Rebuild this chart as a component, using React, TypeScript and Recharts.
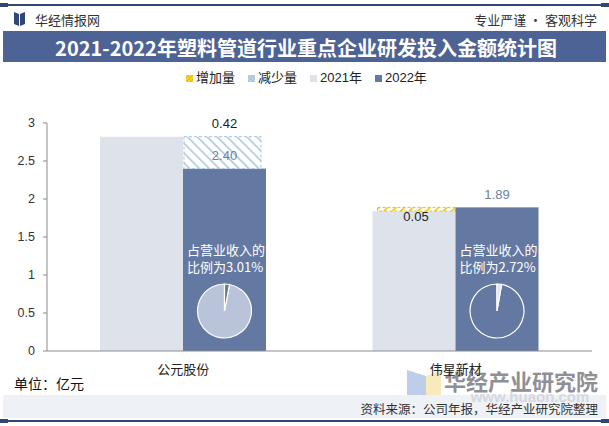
import React from 'react';
import { ComposedChart, Bar, XAxis, YAxis, LabelList, Sector } from 'recharts';

const FONT = '"Liberation Sans", "Noto Sans CJK SC", sans-serif';
const CJK = '"Noto Sans CJK SC", "Liberation Sans", sans-serif';

// ---- data ----
const categories = ['公元股份', '伟星新材'];
const values2021 = [2.82, 1.84];
const values2022 = [2.4, 1.89];
const increases = [0, 0.05];
const decreases = [0.42, 0];
const revenueSharePct = [3.01, 2.72];
const yTicks = [0, 0.5, 1, 1.5, 2, 2.5, 3];
const legendLabels = ['增加量', '减少量', '2021年', '2022年'];

const data = categories.map((name, i) => ({
  name,
  v2021: values2021[i],
  inc: increases[i],
  v2022: values2022[i],
  dec: decreases[i],
  share: revenueSharePct[i],
}));

// ---- styles ----
const C2021 = '#dde2eb';
const C2022 = '#6479a1';
const CLABEL22 = '#6b7fa6';
const CDEC = '#a9c5d6';
const CINC = '#f0c000';
const NAVY = '#2f4777';
const BAND = '#4d6295';
const PIE_COLORS = [
  { big: '#b9c3d9', small: C2022 },
  { big: C2022, small: '#dfe4ee' },
];

const hatchShape = (pid: string, stroke: string, inL: number, inR: number) => (p: any) => {
  const { x, y, width, height } = p;
  if (!height || height <= 0.5) return null;
  return (
    <rect
      x={x + inL}
      y={y}
      width={width - inL - inR}
      height={height}
      fill={`url(#${pid})`}
      stroke={stroke}
      strokeWidth={1}
      strokeDasharray="3 2"
    />
  );
};

const Bar2022Shape = (p: any) => {
  const { x, y, width, height, payload, index } = p;
  const bottom = y + height;
  const cx = x + width / 2;
  const cy = bottom - 40;
  const r = 27;
  const share = payload.share;
  const endSmall = 90 - share * 3.6;
  const pc = PIE_COLORS[index % PIE_COLORS.length];
  return (
    <g>
      <rect x={x} y={y} width={width} height={height} fill={C2022} />
      <text x={x + 4} y={bottom - 102} fill="#fff" fontSize={13} fontFamily={CJK} dominantBaseline="central">
        占营业收入的
      </text>
      <text x={x + 4} y={bottom - 85} fill="#fff" fontSize={13} fontFamily={CJK} dominantBaseline="central">
        {`比例为${share.toFixed(2)}%`}
      </text>
      <Sector cx={cx} cy={cy} innerRadius={0} outerRadius={r} startAngle={endSmall} endAngle={-270} fill={pc.big} stroke="#fff" strokeWidth={1.2} />
      <Sector cx={cx} cy={cy} innerRadius={0} outerRadius={r} startAngle={90} endAngle={endSmall} fill={pc.small} stroke="#fff" strokeWidth={1.2} />
    </g>
  );
};

const getBox = (props: any) => {
  const vb = props.viewBox || {};
  return {
    x: props.x ?? vb.x,
    y: props.y ?? vb.y,
    width: props.width ?? vb.width,
    height: props.height ?? vb.height,
  };
};

const DecTopLabel = (props: any) => {
  const { value } = props;
  if (!value) return null;
  const { x, y, width } = getBox(props);
  return (
    <text x={x + width / 2} y={y - 13} textAnchor="middle" dominantBaseline="central" fontSize={13} fill="#222" fontFamily={FONT}>
      {Number(value).toFixed(2)}
    </text>
  );
};

const Value2022Label = (props: any) => {
  const { value } = props;
  const { x, y, width, height } = getBox(props);
  return (
    <text x={x + width / 2} y={y + (height || 0) - 13} textAnchor="middle" dominantBaseline="central" fontSize={13} fill={CLABEL22} fontFamily={FONT}>
      {Number(value).toFixed(2)}
    </text>
  );
};

const IncLabel = (props: any) => {
  const { value } = props;
  if (!value) return null;
  const { x, y, width, height } = getBox(props);
  return (
    <text x={x + width / 2 + 2} y={y + (height || 0) + 5} textAnchor="middle" dominantBaseline="central" fontSize={13} fill="#222" fontFamily={FONT}>
      {Number(value).toFixed(2)}
    </text>
  );
};

const legendSwatches = [
  <rect width={7} height={7} fill="url(#legInc)" />,
  <rect width={7} height={7} fill="url(#legDec)" />,
  <rect width={7} height={7} fill={C2021} />,
  <rect width={7} height={7} fill={C2022} />,
];

export default function App() {
  return (
    <div style={{ position: 'absolute', left: 0, top: 0, width: 609, height: 426, background: '#fff', fontFamily: FONT, overflow: 'hidden' }}>
      {/* background decorations */}
      <svg width={609} height={426} style={{ position: 'absolute', left: 0, top: 0 }}>
        <defs>
          <pattern id="legInc" width="3" height="3" patternUnits="userSpaceOnUse" patternTransform="rotate(45)">
            <rect width="3" height="3" fill={CINC} />
            <line x1="0" y1="0" x2="0" y2="3" stroke="#fff6c8" strokeWidth="1" />
          </pattern>
          <pattern id="legDec" width="3" height="3" patternUnits="userSpaceOnUse" patternTransform="rotate(-45)">
            <rect width="3" height="3" fill={CDEC} />
            <line x1="0" y1="0" x2="0" y2="3" stroke="#e6f0f6" strokeWidth="1" />
          </pattern>
        </defs>
        {/* top line */}
        <rect x={0} y={4} width={609} height={2} fill={NAVY} />
        <rect x={0} y={3} width={8} height={4} fill={NAVY} />
        <rect x={601} y={3} width={8} height={4} fill={NAVY} />
        {/* logo */}
        <path d="M14,12 L19,14 L19,26 L14,24 Z" fill={NAVY} />
        <path d="M20,14 L25,12 L25,24 L20,26 Z" fill={NAVY} />
        <text x={35} y={19} fontSize={13} fill="#333" fontFamily={CJK} dominantBaseline="central">华经情报网</text>
        <text x={597} y={19} fontSize={13} fill="#333" fontFamily={CJK} dominantBaseline="central" textAnchor="end">专业严谨 • 客观科学</text>
        {/* title band */}
        <rect x={3} y={31} width={603} height={31} fill={BAND} />
        <text x={306} y={47} fontSize={20} fontWeight={700} fill="#fff" fontFamily={CJK} dominantBaseline="central" textAnchor="middle">
          2021-2022年塑料管道行业重点企业研发投入金额统计图
        </text>
        {/* watermark bottom-right */}
        <g opacity={0.75}>
          <path d="M407,370 L426,376 L426,404 L407,398 Z" fill="#a9bde3" />
          <path d="M426,376 L441,370 L441,398 L426,404 Z" fill="#f6e3a8" />
        </g>
        <text x={598} y={380} fontSize={22} fontWeight={700} fill="#8e9096" fontFamily={CJK} dominantBaseline="central" textAnchor="end">华经产业研究院</text>
        {/* footer band */}
        <rect x={3} y={395} width={603} height={23} fill="#eef1f6" />
        <text x={530} y={396} fontSize={15} fontWeight={700} fill="#c9cdd6" fontFamily={FONT} dominantBaseline="central" textAnchor="middle" opacity={0.7}>www.huaon.com</text>
        <text x={14} y={383} fontSize={14} fill="#111" fontFamily={CJK} dominantBaseline="central">单位：亿元</text>
        <text x={598} y={408} fontSize={12.5} fill="#333" fontFamily={CJK} dominantBaseline="central" textAnchor="end">资料来源：公司年报，华经产业研究院整理</text>
        {/* bottom line */}
        <rect x={0} y={420} width={609} height={2} fill={NAVY} />
        <rect x={0} y={419} width={8} height={4} fill={NAVY} />
        <rect x={601} y={419} width={8} height={4} fill={NAVY} />
      </svg>

      {/* chart */}
      <div style={{ position: 'absolute', left: 0, top: 0 }}>
        <ComposedChart
          width={609}
          height={426}
          data={data}
          margin={{ top: 123, right: 17, bottom: 45, left: 7 }}
          barGap={0}
          barCategoryGap={0}
        >
          <defs>
            <pattern id="hatchDec" width="7" height="7" patternUnits="userSpaceOnUse" patternTransform="rotate(-45)">
              <rect width="7" height="7" fill="#fff" />
              <line x1="0" y1="0" x2="0" y2="7" stroke={CDEC} strokeWidth="3" />
            </pattern>
            <pattern id="hatchInc" width="6" height="6" patternUnits="userSpaceOnUse" patternTransform="rotate(45)">
              <rect width="6" height="6" fill="#fff" />
              <line x1="0" y1="0" x2="0" y2="6" stroke={CINC} strokeWidth="3" />
            </pattern>
          </defs>
          <XAxis
            dataKey="name"
            height={30}
            axisLine={{ stroke: '#8c8c8c' }}
            tickLine={false}
            tick={{ fontSize: 13, fill: '#222', fontFamily: CJK }}
            tickMargin={8}
          />
          <YAxis
            domain={[0, 3]}
            ticks={yTicks}
            width={40}
            axisLine={{ stroke: '#8c8c8c' }}
            tickLine={{ stroke: '#8c8c8c' }}
            tickSize={4}
            tickMargin={8}
            tick={{ fontSize: 12.5, fill: '#333', fontFamily: FONT }}
            interval={0}
          />
          <Bar dataKey="v2021" stackId="a" fill={C2021} barSize={83} isAnimationActive={false} />
          <Bar dataKey="inc" stackId="a" barSize={83} isAnimationActive={false} shape={hatchShape('hatchInc', CINC, 5, 0)}>
            <LabelList dataKey="inc" content={IncLabel} />
          </Bar>
          <Bar dataKey="v2022" stackId="b" fill={C2022} barSize={83} isAnimationActive={false} shape={Bar2022Shape} />
          <Bar dataKey="dec" stackId="b" barSize={83} isAnimationActive={false} shape={hatchShape('hatchDec', CDEC, 1, 5)}>
            <LabelList dataKey="v2022" content={Value2022Label} />
            <LabelList dataKey="dec" content={DecTopLabel} />
          </Bar>
        </ComposedChart>
      </div>

      {/* legend */}
      <div style={{ position: 'absolute', left: 186, top: 70, display: 'flex', alignItems: 'center', gap: 13, fontSize: 13, color: '#222', fontFamily: FONT, lineHeight: '16px' }}>
        {legendLabels.map((l, i) => (
          <span key={l} style={{ display: 'flex', alignItems: 'center', gap: 3 }}>
            <svg width={7} height={7} style={{ display: 'block' }}>{legendSwatches[i]}</svg>
            <span>{l}</span>
          </span>
        ))}
      </div>
    </div>
  );
}
